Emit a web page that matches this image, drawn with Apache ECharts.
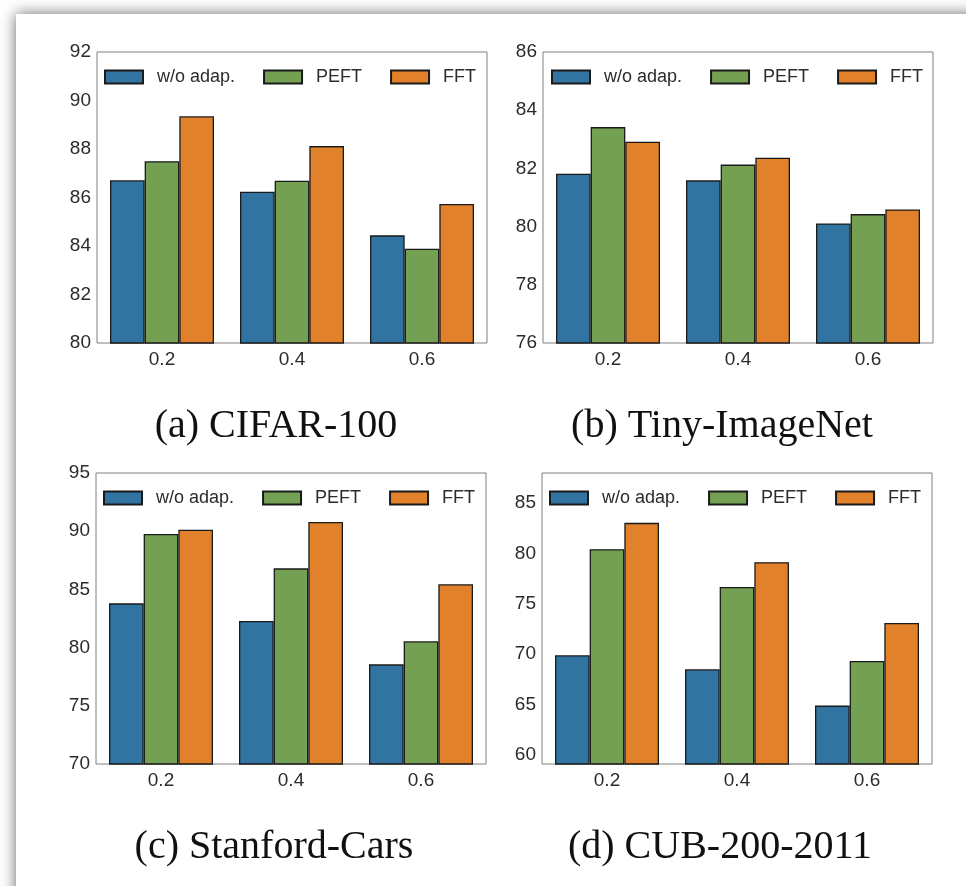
<!DOCTYPE html>
<html>
<head>
<meta charset="utf-8">
<script src="https://cdn.jsdelivr.net/npm/echarts@6/dist/echarts.min.js"></script>
<style>
  html, body { margin: 0; padding: 0; background: #ffffff; }
  #chart { width: 966px; height: 886px; }
</style>
</head>
<body>
<div id="chart"></div>
<script>
// Sparsity ratios on the x axis
const categories = ['0.2', '0.4', '0.6'];
const seriesNames = ['w/o adap.', 'PEFT', 'FFT'];

// (a) CIFAR-100
const cifarWoAdap = [86.71, 86.24, 84.44];
const cifarPEFT   = [87.50, 86.69, 83.89];
const cifarFFT    = [89.35, 88.12, 85.73];

// (b) Tiny-ImageNet
const tinyWoAdap = [81.82, 81.59, 80.11];
const tinyPEFT   = [83.42, 82.13, 80.43];
const tinyFFT    = [82.92, 82.37, 80.59];

// (c) Stanford-Cars
const carsWoAdap = [83.80, 82.29, 78.56];
const carsPEFT   = [89.76, 86.81, 80.54];
const carsFFT    = [90.13, 90.79, 85.44];

// (d) CUB-200-2011
const cubWoAdap = [69.90, 68.51, 64.90];
const cubPEFT   = [80.43, 76.69, 69.34];
const cubFFT    = [83.05, 79.14, 73.11];

// Y tick labels per panel
const cifarTicks = [80, 82, 84, 86, 88, 90, 92];
const tinyTicks  = [76, 78, 80, 82, 84, 86];
const carsTicks  = [70, 75, 80, 85, 90, 95];
const cubTicks   = [60, 65, 70, 75, 80, 85];

const panelTitles = ['(a) CIFAR-100', '(b) Tiny-ImageNet', '(c) Stanford-Cars', '(d) CUB-200-2011'];

const colors = ['#3274A1', '#74A053', '#E1812C'];

const panels = [
  { data: [cifarWoAdap, cifarPEFT, cifarFFT], ticks: cifarTicks, min: 80, max: 92,
    grid: { left: 97, top: 52 }, legend: { left: 104, top: 67 }, title: { x: 276, y: 406 } },
  { data: [tinyWoAdap, tinyPEFT, tinyFFT], ticks: tinyTicks, min: 76, max: 86,
    grid: { left: 543, top: 52 }, legend: { left: 551, top: 67 }, title: { x: 722, y: 406 } },
  { data: [carsWoAdap, carsPEFT, carsFFT], ticks: carsTicks, min: 70, max: 95,
    grid: { left: 96, top: 473 }, legend: { left: 103, top: 488 }, title: { x: 274, y: 827 } },
  { data: [cubWoAdap, cubPEFT, cubFFT], ticks: cubTicks, min: 59.1, max: 88,
    grid: { left: 542, top: 473 }, legend: { left: 549, top: 488 }, title: { x: 720, y: 827 } }
];

const PLOT_W = 390, PLOT_H = 291;
const tickFont = 'Liberation Sans, Arial, sans-serif';

const grids = [], xAxes = [], yAxes = [], series = [], legends = [], titles = [];

panels.forEach((p, i) => {
  grids.push({
    left: p.grid.left, top: p.grid.top, width: PLOT_W, height: PLOT_H,
    show: true, borderColor: '#808080', borderWidth: 1, backgroundColor: 'transparent'
  });
  xAxes.push({
    type: 'category', gridIndex: i, data: categories,
    axisLine: { show: false }, axisTick: { show: false },
    axisLabel: { color: '#2b2b2b', fontFamily: tickFont, fontSize: 19, margin: 7 }
  });
  yAxes.push({
    type: 'value', gridIndex: i, min: p.min, max: p.max,
    axisLine: { show: false }, axisTick: { show: false }, splitLine: { show: false },
    axisLabel: { color: '#2b2b2b', fontFamily: tickFont, fontSize: 19, margin: 6,
                 customValues: p.ticks }
  });
  p.data.forEach((vals, k) => {
    series.push({
      type: 'bar', name: seriesNames[k], xAxisIndex: i, yAxisIndex: i,
      data: vals, barGap: '0%', barCategoryGap: '20%',
      itemStyle: { color: colors[k], borderColor: '#1a1a1a', borderWidth: 1.3 },
      emphasis: { disabled: true }
    });
  });
  legends.push({
    left: p.legend.left, top: p.legend.top, orient: 'horizontal', padding: 0,
    data: seriesNames, icon: 'rect', itemWidth: 38, itemHeight: 13, itemGap: 28,
    selectedMode: false,
    textStyle: { color: '#2b2b2b', fontFamily: tickFont, fontSize: 18, lineHeight: 20,
                 padding: [0, 0, 0, 9] }
  });
  titles.push({
    text: panelTitles[i], left: p.title.x, top: p.title.y, textAlign: 'center', padding: 0,
    textStyle: { fontFamily: 'Liberation Serif, Times New Roman, serif', fontSize: 40,
                 fontWeight: 'normal', color: '#111111' }
  });
});

const chart = echarts.init(document.getElementById('chart'), null, { renderer: 'canvas' });
chart.setOption({
  backgroundColor: '#ffffff',
  animation: false,
  // Page sheet with a soft drop shadow along its top and left edges
  graphic: [{
    type: 'rect', z: -10, silent: true,
    shape: { x: 16, y: 14, width: 1000, height: 1000 },
    style: { fill: '#ffffff', shadowBlur: 14, shadowColor: 'rgba(0,0,0,0.6)', shadowOffsetX: 0, shadowOffsetY: 0 }
  }],
  title: titles,
  legend: legends,
  grid: grids,
  xAxis: xAxes,
  yAxis: yAxes,
  series: series
});
</script>
</body>
</html>
